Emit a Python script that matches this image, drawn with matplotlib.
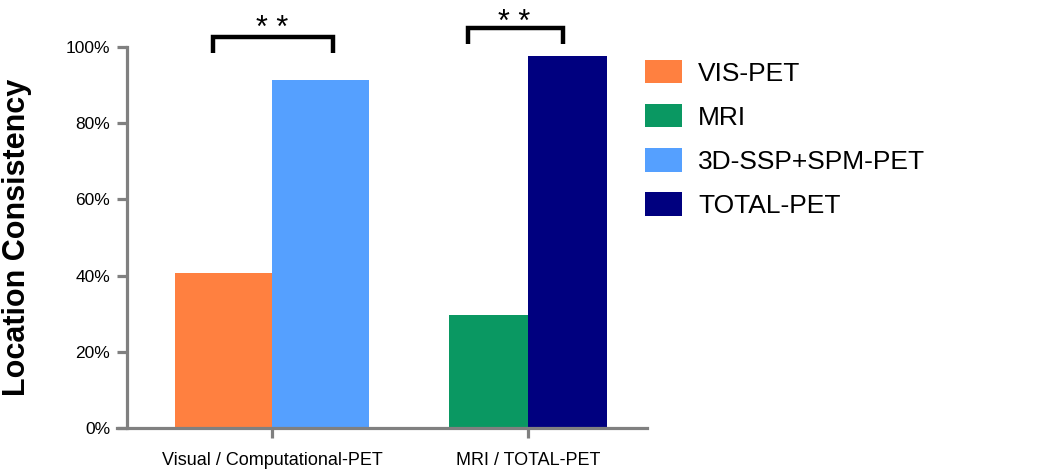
import matplotlib
matplotlib.use("Agg")
import matplotlib.pyplot as plt
from matplotlib.patches import Patch
import numpy as np

# ---- data ----
groups = ["Visual / Computational-PET", "MRI / TOTAL-PET"]
left_labels = ["VIS-PET", "MRI"]
right_labels = ["3D-SSP+SPM-PET", "TOTAL-PET"]
left_values = [40.6, 29.7]
right_values = [91.3, 97.6]
yticks = [0, 20, 40, 60, 80, 100]
ytick_labels = ["0%", "20%", "40%", "60%", "80%", "100%"]
significance = ["* *", "* *"]

# ---- style ----
left_colors = ["#FF8040", "#0A9862"]
right_colors = ["#55A0FF", "#00007F"]
group_widths = [0.38, 0.31]
plt.rcParams['font.family'] = ['Liberation Sans', 'DejaVu Sans']

fig = plt.figure(figsize=(10.37, 4.74), dpi=100)
ax = fig.add_axes([127/1037, 1-428/474, (647-127)/1037, (428-47)/474])

x = np.arange(len(groups))
for i in range(len(groups)):
    w = group_widths[i]
    ax.bar(x[i] - w/2, left_values[i], width=w, color=left_colors[i], linewidth=0)
    ax.bar(x[i] + w/2, right_values[i], width=w, color=right_colors[i], linewidth=0)

ax.set_xlim(-0.566, 1.465)
ax.set_ylim(0, 100)
ax.set_yticks(yticks)
ax.set_yticklabels(ytick_labels, fontsize=12.5)
ax.set_xticks(x)
ax.set_xticklabels(groups, fontsize=13)

gray = "#808080"
for s in ["top", "right"]:
    ax.spines[s].set_visible(False)
for s in ["left", "bottom"]:
    ax.spines[s].set_color(gray)
    ax.spines[s].set_linewidth(2.3)
ax.spines["bottom"].set_bounds(-0.606, 1.465)
ax.tick_params(axis='both', color=gray, width=2.3, length=7, pad=5)
ax.tick_params(axis='x', pad=10)

# significance brackets: (left offset, right offset, bottom, top, star baseline)
bracket_spec = [(-0.23, 0.24, 98.4, 102.6, 102.6), (-0.234, 0.137, 100.8, 105.0, 104.2)]
for i, (x0, x1, yb, yt, ys) in enumerate(bracket_spec):
    ax.plot([x[i]+x0, x[i]+x0, x[i]+x1, x[i]+x1], [yb, yt, yt, yb], color="black",
            lw=3.2, clip_on=False, solid_joinstyle='miter', solid_capstyle='butt')
    ax.text(x[i] + (x0 + x1)/2 - 0.005, ys, significance[i], ha='center', va='baseline',
            fontsize=22, clip_on=False)

fig.text(17/1037, 1-237/474, "Location Consistency", rotation=90, ha='center',
         va='center', fontsize=22, fontweight='bold')

handles = [Patch(facecolor=left_colors[0], label=left_labels[0]),
           Patch(facecolor=left_colors[1], label=left_labels[1]),
           Patch(facecolor=right_colors[0], label=right_labels[0]),
           Patch(facecolor=right_colors[1], label=right_labels[1])]
fig.legend(handles=handles, loc='upper left', bbox_to_anchor=(645/1037, 1-60/474),
           frameon=False, fontsize=19, handlelength=1.4, handleheight=0.98,
           handletextpad=0.62, labelspacing=0.70, borderpad=0, borderaxespad=0)

fig.savefig("out.png", dpi=100)
